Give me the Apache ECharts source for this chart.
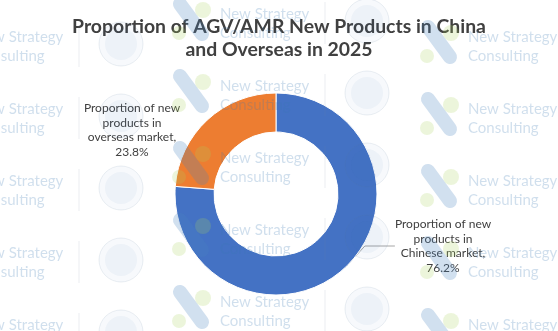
<!DOCTYPE html>
<html>
<head>
<meta charset="utf-8">
<script src="https://cdn.jsdelivr.net/npm/echarts@6/dist/echarts.min.js"></script>
<style>html,body{margin:0;padding:0;background:#fff}#c{width:558px;height:331px}</style>
</head>
<body>
<div id="c"></div>
<script>
var titleText = 'Proportion of AGV/AMR New Products in China\nand Overseas in 2025';
var categories = ['Proportion of new\nproducts in\nChinese market', 'Proportion of new\nproducts in\noverseas market'];
var values = [76.2, 23.8];
var colors = ['#4472C4', '#ED7D31'];

var chart = echarts.init(document.getElementById('c'));

// watermark tiles (decoration)
var wm = [];
var cols = [{x: -26, rows: [37, 109, 181, 253, 325]}, {x: 220, rows: [14, 86, 158, 230, 302]}, {x: 468, rows: [37, 109, 181, 253, 325]}];
cols.forEach(function (c) {
  c.rows.forEach(function (r) {
    wm.push({type: 'line', silent: true, shape: {x1: c.x - 40, y1: r - 10, x2: c.x - 18, y2: r + 20}, style: {stroke: 'rgba(70,130,190,0.25)', lineWidth: 14, lineCap: 'round'}});
    wm.push({type: 'circle', silent: true, shape: {cx: c.x - 17, cy: r - 4, r: 8}, style: {fill: 'rgba(170,210,90,0.22)'}});
    wm.push({type: 'circle', silent: true, shape: {cx: c.x - 41, cy: r + 19, r: 7}, style: {fill: 'rgba(170,210,90,0.22)'}});
    wm.push({type: 'text', silent: true, x: c.x, y: r, style: {text: 'New Strategy', font: '15px Lato', fill: 'rgba(60,120,180,0.24)', verticalAlign: 'middle'}});
    wm.push({type: 'text', silent: true, x: c.x, y: r + 19, style: {text: 'Consulting', font: '15px Lato', fill: 'rgba(60,120,180,0.24)', verticalAlign: 'middle'}});
    wm.push({type: 'line', silent: true, shape: {x1: c.x + 105, y1: r - 12, x2: c.x + 105, y2: r + 30}, style: {stroke: 'rgba(120,140,170,0.15)', lineWidth: 1}});
    wm.push({type: 'circle', silent: true, shape: {cx: c.x + 147, cy: r + 7, r: 22}, style: {fill: 'rgba(60,110,170,0.04)', stroke: 'rgba(90,120,160,0.12)', lineWidth: 1}});
    wm.push({type: 'circle', silent: true, shape: {cx: c.x + 147, cy: r + 7, r: 16}, style: {fill: 'rgba(60,110,170,0.05)'}});
  });
});

chart.setOption({
  animation: false,
  backgroundColor: '#ffffff',
  title: {
    text: titleText,
    left: 'center',
    top: 10,
    padding: [5, 17, 5, 5],
    textStyle: {fontFamily: 'Lato', fontWeight: 'bold', fontSize: 19.4, color: '#404040', lineHeight: 23}
  },
  graphic: {elements: wm.map(function (e) { e.z = 100; return e; })},
  series: [{
    type: 'pie',
    center: [276, 194],
    radius: [62, 101],
    startAngle: 90,
    clockwise: true,
    avoidLabelOverlap: false,
    itemStyle: {borderColor: '#ffffff', borderWidth: 1},
    label: {
      show: true,
      formatter: function (p) { return p.name + ',\n' + p.value + '%'; },
      fontFamily: 'Lato',
      fontSize: 12,
      lineHeight: 14.5,
      color: '#404040',
      align: 'center'
    },
    labelLine: {show: true, length: 10, length2: 30, lineStyle: {color: '#a6a6a6', width: 1}},
    labelLayout: function (p) {
      if (p.dataIndex === 0) return {x: 443, y: 246, align: 'center', verticalAlign: 'middle'};
      return {x: 132, y: 130, align: 'center', verticalAlign: 'middle'};
    },
    data: categories.map(function (n, i) {
      var d = {name: n, value: values[i], itemStyle: {color: colors[i]}};
      if (i === 1) d.labelLine = {show: false};
      return d;
    })
  }]
});
</script>
</body>
</html>
